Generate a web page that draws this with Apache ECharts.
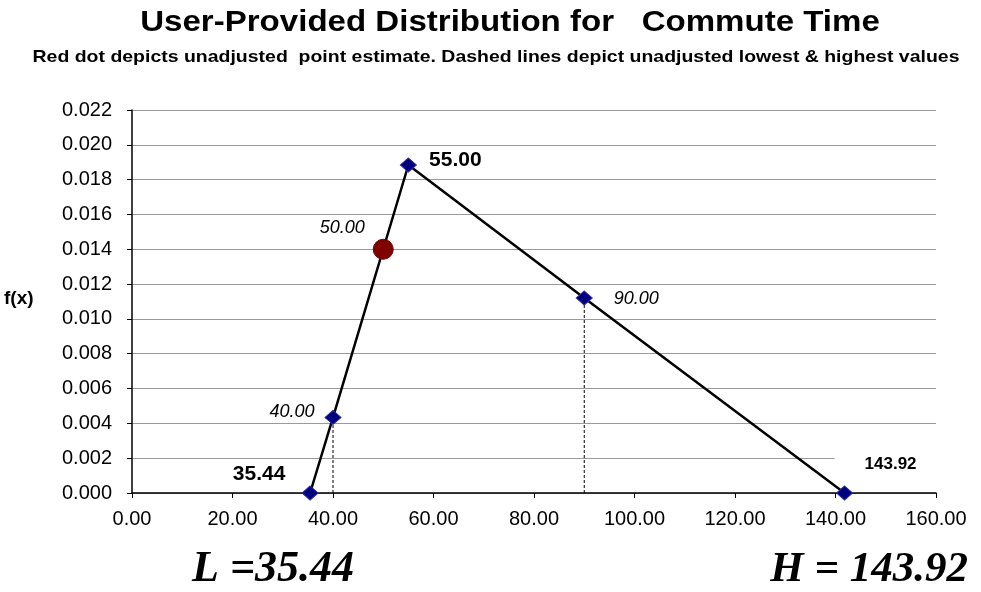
<!DOCTYPE html>
<html>
<head>
<meta charset="utf-8">
<script src="https://cdn.jsdelivr.net/npm/echarts@6/dist/echarts.min.js"></script>
<style>
html,body{margin:0;padding:0;background:#fff;}
#chart{width:981px;height:592px;}
</style>
</head>
<body>
<div id="chart"></div>
<script>
// ---- data ----
const curveX = [35.44, 40, 55, 90, 141.8];
const curveY = [0, 0.00434, 0.01884, 0.0112, 0];
const curveLabels = ['35.44', '40.00', '55.00', '90.00', '143.92'];
const estimateX = [50];
const estimateY = [0.0140];
const estimateLabels = ['50.00'];
const dashX = [40, 90];
const dashTopY = [0.00434, 0.0112];
const xMin = 0, xMax = 160, xStep = 20;
const yMin = 0, yMax = 0.022, yStep = 0.002;
const titleText = 'User-Provided Distribution for   Commute Time';
const subtitleText = 'Red dot depicts unadjusted  point estimate. Dashed lines depict unadjusted lowest & highest values';
const yName = 'f(x)';
const lowText = 'L =35.44';
const highText = 'H = 143.92';

// ---- styles ----
const FONT = "'Liberation Sans', Arial, sans-serif";
const SERIF = "'Liberation Serif', 'Times New Roman', serif";
const curveLabelStyles = [
  {offset: [-51, -19], fontWeight: 'bold', fontSize: 21},
  {offset: [-41, -5], fontStyle: 'italic', fontSize: 18},
  {offset: [47, -5], fontWeight: 'bold', fontSize: 21},
  {offset: [52, 1], fontStyle: 'italic', fontSize: 18},
  {offset: [46, -29], fontWeight: 'bold', fontSize: 17, backgroundColor: '#ffffff', padding: [10, 30, 10, 30]}
];

const curveData = curveX.map((x, i) => ({
  value: [x, curveY[i]],
  label: Object.assign({
    show: true, position: 'inside', align: 'center', verticalAlign: 'middle',
    color: '#000', fontFamily: FONT,
    formatter: curveLabels[i]
  }, curveLabelStyles[i])
}));

const dashSeries = dashX.map((x, i) => ({
  type: 'line',
  data: [[x, 0], [x, dashTopY[i]]],
  symbol: 'none',
  silent: true,
  z: 1,
  lineStyle: {color: '#000', width: 1, type: [3, 2]}
}));

const chart = echarts.init(document.getElementById('chart'), null, {renderer: 'canvas'});
chart.setOption({
  animation: false,
  backgroundColor: '#ffffff',
  grid: {left: 132, right: 45, top: 110, bottom: 99, containLabel: false},
  xAxis: {
    type: 'value', min: xMin, max: xMax, interval: xStep,
    axisLine: {show: true, lineStyle: {color: '#000', width: 1.5}},
    axisTick: {show: true, inside: false, length: 5, lineStyle: {color: '#000'}},
    axisLabel: {formatter: v => v.toFixed(2), fontFamily: FONT, fontSize: 20, color: '#000', margin: 16},
    splitLine: {show: false}
  },
  yAxis: {
    type: 'value', min: yMin, max: yMax, interval: yStep,
    axisLine: {show: true, lineStyle: {color: '#000', width: 1.5}},
    axisTick: {show: true, inside: false, length: 5, lineStyle: {color: '#000'}},
    axisLabel: {formatter: v => v.toFixed(3), fontFamily: FONT, fontSize: 20, color: '#000', margin: 20},
    splitLine: {show: true, lineStyle: {color: '#9a9a9a', width: 1}}
  },
  series: [
    ...dashSeries,
    {
      type: 'line',
      data: curveData,
      symbol: 'diamond',
      symbolSize: [16, 14],
      showAllSymbol: true,
      z: 3,
      itemStyle: {color: '#00007f', borderColor: '#2a2aa8', borderWidth: 1},
      lineStyle: {color: '#000', width: 2.5}
    },
    {
      type: 'scatter',
      data: estimateX.map((x, i) => ({
        value: [x, estimateY[i]],
        label: {show: true, position: 'inside', offset: [-41, -21], formatter: estimateLabels[i],
                fontFamily: FONT, fontStyle: 'italic', fontSize: 18, color: '#000'}
      })),
      symbol: 'circle',
      symbolSize: 20,
      z: 4,
      itemStyle: {color: '#800000', borderColor: '#700000', borderWidth: 1, opacity: 1}
    }
  ],
  graphic: [
    {type: 'text', x: 510, y: 23, scaleX: 1.14,
     style: {text: titleText, font: 'bold 29px ' + FONT, fill: '#000', textAlign: 'center', textVerticalAlign: 'middle'}},
    {type: 'text', x: 496, y: 57, scaleX: 1.145,
     style: {text: subtitleText, font: 'bold 17px ' + FONT, fill: '#000', textAlign: 'center', textVerticalAlign: 'middle'}},
    {type: 'text', left: 4, top: 289, style: {text: yName, font: 'bold 19px ' + FONT, fill: '#000'}},
    {type: 'text', x: 192, y: 570, style: {text: lowText, font: 'italic bold 44px ' + SERIF, fill: '#000', textVerticalAlign: 'middle'}},
    {type: 'text', x: 968, y: 570, style: {text: highText, font: 'italic bold 43px ' + SERIF, fill: '#000', textAlign: 'right', textVerticalAlign: 'middle'}}
  ]
});
</script>
</body>
</html>
